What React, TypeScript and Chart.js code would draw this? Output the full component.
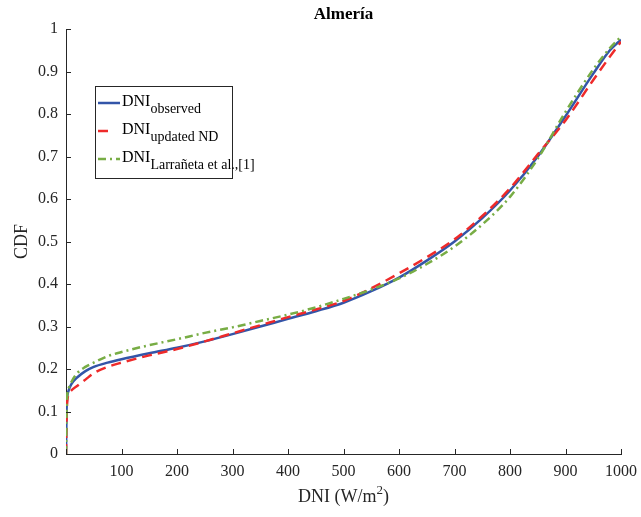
import React, { useEffect, useRef } from "react";
import { Chart, registerables } from "chart.js";

Chart.register(...registerables);

const TITLE = "Almería";
const X_LABEL_MAIN = "DNI (W/m";
const X_LABEL_SUP = "2";
const X_LABEL_END = ")";
const Y_LABEL = "CDF";
const X_TICKS = [0, 100, 200, 300, 400, 500, 600, 700, 800, 900, 1000];
const Y_TICKS = [0, 0.1, 0.2, 0.3, 0.4, 0.5, 0.6, 0.7, 0.8, 0.9, 1];

const dniObserved = [0, 0.5, 1, 2, 5, 10, 20, 35, 50, 75, 100, 150, 200, 250, 300, 350, 400, 450, 500, 550, 600, 650, 700, 750, 800, 850, 900, 950, 980, 1000];
const cdfObserved = [0, 0.05, 0.1, 0.13, 0.15, 0.165, 0.18, 0.195, 0.205, 0.215, 0.223, 0.237, 0.25, 0.265, 0.282, 0.3, 0.318, 0.336, 0.356, 0.383, 0.415, 0.455, 0.5, 0.555, 0.62, 0.7, 0.795, 0.895, 0.95, 0.975];

const dniUpdated = [0, 1, 2, 5, 10, 20, 35, 50, 75, 100, 150, 200, 250, 300, 350, 400, 450, 500, 550, 600, 650, 700, 750, 800, 850, 900, 950, 980, 1000];
const cdfUpdated = [0, 0.08, 0.12, 0.14, 0.15, 0.16, 0.175, 0.19, 0.205, 0.215, 0.232, 0.247, 0.265, 0.284, 0.303, 0.322, 0.34, 0.36, 0.39, 0.425, 0.463, 0.505, 0.56, 0.625, 0.705, 0.785, 0.88, 0.935, 0.97];

const dniLarraneta = [0, 1, 2, 5, 10, 20, 35, 50, 75, 100, 150, 200, 250, 300, 350, 400, 450, 500, 550, 600, 650, 700, 750, 800, 850, 900, 950, 980, 1000];
const cdfLarraneta = [0, 0.1, 0.135, 0.155, 0.17, 0.19, 0.205, 0.215, 0.23, 0.24, 0.256, 0.27, 0.285, 0.298, 0.313, 0.328, 0.345, 0.365, 0.387, 0.413, 0.447, 0.488, 0.54, 0.605, 0.695, 0.805, 0.905, 0.955, 0.982];

const LEGEND = [
  { main: "DNI", sub: "observed" },
  { main: "DNI", sub: "updated ND" },
  { main: "DNI", sub: "Larrañeta et al.,[1]" },
];

const BLUE = "#3355a8";
const RED = "#ee2a2a";
const GREEN = "#78ad45";
const DASHES: number[][] = [[], [10, 6], [8, 4, 2, 4]];
const COLORS = [BLUE, RED, GREEN];
const SERIF = "'Liberation Serif', 'Times New Roman', serif";
const AXIS = "#262626";

function toPts(xs: number[], ys: number[]) {
  return xs.map((x, i) => ({ x, y: ys[i] }));
}

const overlay = {
  id: "overlay",
  afterDraw(chart: any) {
    const ctx = chart.ctx;
    const xs = chart.scales.x;
    const ys = chart.scales.y;
    const area = chart.chartArea;
    ctx.save();
    // inward ticks
    ctx.strokeStyle = AXIS;
    ctx.lineWidth = 1;
    ctx.beginPath();
    X_TICKS.forEach((v) => {
      const px = Math.round(xs.getPixelForValue(v)) + 0.5;
      ctx.moveTo(px, area.bottom);
      ctx.lineTo(px, area.bottom - 5);
    });
    Y_TICKS.forEach((v) => {
      const py = Math.round(ys.getPixelForValue(v)) + 0.5;
      ctx.moveTo(area.left, py);
      ctx.lineTo(area.left + 5, py);
    });
    ctx.stroke();
    // title
    ctx.fillStyle = "#000";
    ctx.font = `bold 17px ${SERIF}`;
    ctx.textAlign = "center";
    ctx.textBaseline = "middle";
    ctx.fillText(TITLE, (area.left + area.right) / 2, 15);
    // x axis title with superscript
    ctx.fillStyle = AXIS;
    ctx.textAlign = "left";
    ctx.textBaseline = "alphabetic";
    ctx.font = `18px ${SERIF}`;
    const w1 = ctx.measureText(X_LABEL_MAIN).width;
    const w3 = ctx.measureText(X_LABEL_END).width;
    ctx.font = `13px ${SERIF}`;
    const w2 = ctx.measureText(X_LABEL_SUP).width;
    const total = w1 + w2 + w3;
    const sx = (area.left + area.right) / 2 - total / 2;
    const base = 502;
    ctx.font = `18px ${SERIF}`;
    ctx.fillText(X_LABEL_MAIN, sx, base);
    ctx.fillText(X_LABEL_END, sx + w1 + w2, base);
    ctx.font = `13px ${SERIF}`;
    ctx.fillText(X_LABEL_SUP, sx + w1, base - 8);
    // y axis title
    ctx.font = `18px ${SERIF}`;
    ctx.textAlign = "center";
    ctx.textBaseline = "middle";
    ctx.save();
    ctx.translate(22, (area.top + area.bottom) / 2);
    ctx.rotate(-Math.PI / 2);
    ctx.fillText(Y_LABEL, 0, 0);
    ctx.restore();
    // legend
    const bx = 95.5, by = 86.5, bw = 137, bh = 92;
    ctx.fillStyle = "#fff";
    ctx.fillRect(bx, by, bw, bh);
    ctx.strokeStyle = "#262626";
    ctx.lineWidth = 1;
    ctx.strokeRect(bx, by, bw, bh);
    const lineYs = [103, 131, 159];
    const baseYs = [106, 134, 162];
    LEGEND.forEach((item, i) => {
      ctx.save();
      ctx.strokeStyle = COLORS[i];
      ctx.lineWidth = 2.5;
      ctx.setLineDash(DASHES[i]);
      ctx.beginPath();
      ctx.moveTo(98, lineYs[i]);
      ctx.lineTo(i === 1 ? 111 : 120, lineYs[i]);
      ctx.stroke();
      ctx.restore();
      ctx.fillStyle = "#000";
      ctx.textAlign = "left";
      ctx.textBaseline = "alphabetic";
      ctx.font = `16px ${SERIF}`;
      ctx.fillText(item.main, 122, baseYs[i]);
      const w = ctx.measureText(item.main).width;
      ctx.font = `14px ${SERIF}`;
      ctx.fillText(item.sub, 122 + w, baseYs[i] + 7);
    });
    ctx.restore();
  },
};

export default function App() {
  const ref = useRef<HTMLCanvasElement | null>(null);
  useEffect(() => {
    document.body.style.margin = "0";
    if (!ref.current) return;
    const mk = (xs: number[], ys: number[], i: number, label: string) => ({
      label,
      data: toPts(xs, ys),
      showLine: true,
      borderColor: COLORS[i],
      backgroundColor: COLORS[i],
      borderWidth: 2.5,
      borderDash: DASHES[i],
      pointRadius: 0,
      cubicInterpolationMode: "monotone",
      fill: false,
    });
    const chart = new Chart(ref.current, {
      type: "scatter",
      data: {
        datasets: [
          mk(dniLarraneta, cdfLarraneta, 2, "Larrañeta"),
          mk(dniUpdated, cdfUpdated, 1, "updated ND"),
          mk(dniObserved, cdfObserved, 0, "observed"),
        ],
      },
      options: {
        animation: false,
        responsive: false,
        layout: { padding: { top: 29, right: 20, left: 0, bottom: 0 } },
        plugins: { legend: { display: false }, tooltip: { enabled: false }, title: { display: false } },
        scales: {
          x: {
            type: "linear",
            min: 0,
            max: 1000,
            afterFit: (s: any) => { s.height = 63; s.paddingRight = 0; s.paddingLeft = 0; },
            afterBuildTicks: (s: any) => { s.ticks = X_TICKS.map((v) => ({ value: v })); },
            grid: { display: false, drawTicks: false },
            border: { display: true, color: AXIS, width: 1 },
            ticks: {
              padding: 8,
              color: AXIS,
              maxRotation: 0,
              autoSkip: false,
              font: { family: SERIF, size: 16 },
              callback: (v: any) => (v === 0 ? "" : String(v)),
            },
          },
          y: {
            type: "linear",
            min: 0,
            max: 1,
            afterFit: (s: any) => { s.width = 66; s.paddingTop = 0; s.paddingBottom = 0; },
            afterBuildTicks: (s: any) => { s.ticks = Y_TICKS.map((v) => ({ value: v })); },
            grid: { display: false, drawTicks: false },
            border: { display: true, color: AXIS, width: 1 },
            ticks: {
              padding: 8,
              color: AXIS,
              autoSkip: false,
              font: { family: SERIF, size: 16 },
              callback: (v: any) => String(Math.round(v * 10) / 10),
            },
          },
        },
      },
      plugins: [overlay],
    } as any);
    return () => chart.destroy();
  }, []);
  return (
    <div style={{ width: 641, height: 517, background: "#fff" }}>
      <canvas ref={ref} width={641} height={517} style={{ display: "block" }} />
    </div>
  );
}
